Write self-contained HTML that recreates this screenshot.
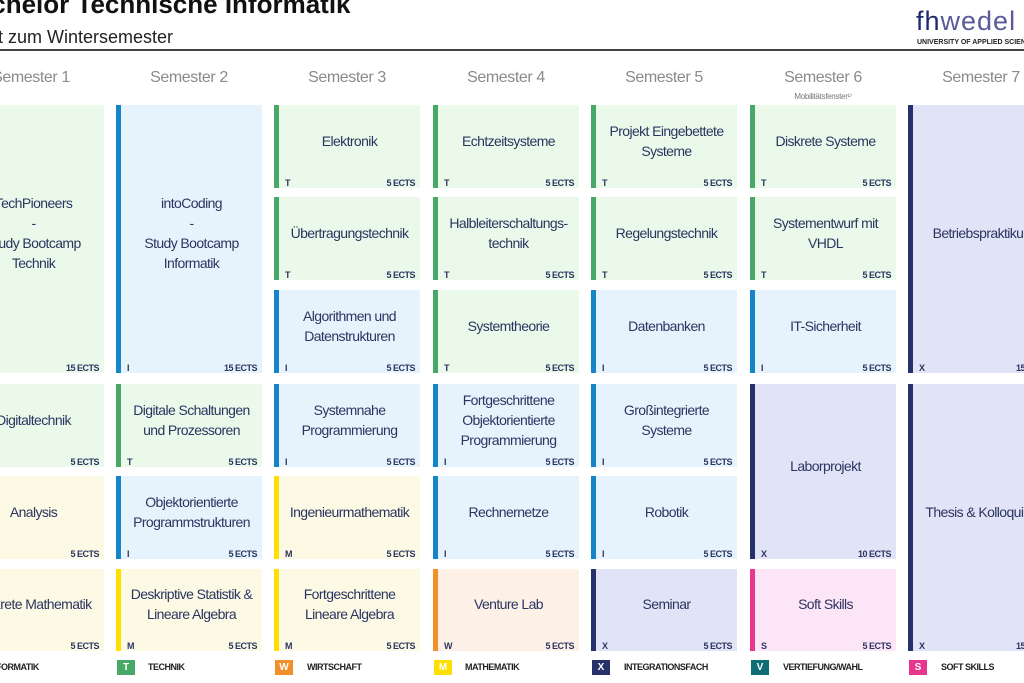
<!DOCTYPE html>
<html><head><meta charset="utf-8">
<style>
*{margin:0;padding:0;box-sizing:border-box}
body{width:1024px;height:683px;overflow:hidden;background:#fff;position:relative;font-family:"Liberation Sans",sans-serif;color:#2b3560}
.t1{position:absolute;left:-42px;top:-11px;font-size:26px;font-weight:bold;color:#111;white-space:nowrap}
.t2{position:absolute;left:-35px;top:27px;font-size:18px;color:#222;white-space:nowrap}
.hr{position:absolute;left:0;top:49px;width:1024px;height:2px;background:#444}
.logo{position:absolute;left:916px;top:6px;font-size:27px;color:#5a5a9a;letter-spacing:1px}
.logo b{font-weight:normal;color:#1f2a6a}
.uni{position:absolute;left:917px;top:39px;font-size:7px;color:#222;white-space:nowrap;font-weight:bold}
.sh{position:absolute;top:69px;width:146px;text-align:center;font-size:16px;color:#8a8a8a;letter-spacing:-0.4px}
.mob{position:absolute;left:750px;top:92px;width:146px;text-align:center;font-size:8px;color:#777;letter-spacing:-0.3px}
.c{position:absolute;width:146px;height:83px;border-left:5px solid}
.c .n{position:absolute;left:0;right:0;top:0;bottom:12px;display:flex;align-items:center;justify-content:center;text-align:center;font-size:14px;line-height:20px;padding:0 3px;letter-spacing:-0.6px}
.c .k{position:absolute;left:6px;bottom:0px;font-size:9px;font-weight:bold}
.c .e{position:absolute;right:5px;bottom:0px;font-size:9px;font-weight:bold;letter-spacing:-0.5px}
.g{background:#eaf9ea;border-color:#47a867}
.b{background:#e6f3fd;border-color:#1584c8}
.y{background:#fcf9e5;border-color:#ffdf00}
.o{background:#fdf0e6;border-color:#f0902a}
.x{background:#e1e4f6;border-color:#26306a}
.p{background:#fde5f8;border-color:#e8368f}
.lg{position:absolute;top:660px;width:18px;height:15px;color:#fff;font-size:10px;text-align:center;line-height:15px;font-weight:bold}
.lt{position:absolute;top:662px;font-size:9px;font-weight:bold;color:#222;white-space:nowrap;letter-spacing:-0.5px}
</style></head><body>
<div class="t1">Bachelor Technische Informatik</div>
<div class="t2">Start zum Wintersemester</div>
<div class="hr"></div>
<div class="logo"><b>fh</b>wedel</div>
<div class="uni">UNIVERSITY OF APPLIED SCIENCES</div>

<div class="sh" style="left:-42px">Semester 1</div>
<div class="sh" style="left:116px">Semester 2</div>
<div class="sh" style="left:274px">Semester 3</div>
<div class="sh" style="left:433px">Semester 4</div>
<div class="sh" style="left:591px">Semester 5</div>
<div class="sh" style="left:750px">Semester 6</div>
<div class="sh" style="left:908px">Semester 7</div>
<div class="mob">Mobilitätsfenster¹⁾</div>

<div class="c g" style="left:-42px;top:105px;height:268px"><div class="n">TechPioneers<br>-<br>Study Bootcamp<br>Technik</div><span class="k">T</span><span class="e">15 ECTS</span></div>
<div class="c g" style="left:-42px;top:384px"><div class="n">Digitaltechnik</div><span class="k">T</span><span class="e">5 ECTS</span></div>
<div class="c y" style="left:-42px;top:476px"><div class="n">Analysis</div><span class="k">M</span><span class="e">5 ECTS</span></div>
<div class="c y" style="left:-42px;top:569px;height:82px"><div class="n">Diskrete Mathematik</div><span class="k">M</span><span class="e">5 ECTS</span></div>

<div class="c b" style="left:116px;top:105px;height:268px"><div class="n">intoCoding<br>-<br>Study Bootcamp<br>Informatik</div><span class="k">I</span><span class="e">15 ECTS</span></div>
<div class="c g" style="left:116px;top:384px"><div class="n">Digitale Schaltungen und Prozessoren</div><span class="k">T</span><span class="e">5 ECTS</span></div>
<div class="c b" style="left:116px;top:476px"><div class="n">Objektorientierte Programmstrukturen</div><span class="k">I</span><span class="e">5 ECTS</span></div>
<div class="c y" style="left:116px;top:569px;height:82px"><div class="n">Deskriptive Statistik &amp; Lineare Algebra</div><span class="k">M</span><span class="e">5 ECTS</span></div>

<div class="c g" style="left:274px;top:105px"><div class="n">Elektronik</div><span class="k">T</span><span class="e">5 ECTS</span></div>
<div class="c g" style="left:274px;top:197px"><div class="n">Übertragungstechnik</div><span class="k">T</span><span class="e">5 ECTS</span></div>
<div class="c b" style="left:274px;top:290px"><div class="n">Algorithmen und Datenstrukturen</div><span class="k">I</span><span class="e">5 ECTS</span></div>
<div class="c b" style="left:274px;top:384px"><div class="n">Systemnahe Programmierung</div><span class="k">I</span><span class="e">5 ECTS</span></div>
<div class="c y" style="left:274px;top:476px"><div class="n">Ingenieurmathematik</div><span class="k">M</span><span class="e">5 ECTS</span></div>
<div class="c y" style="left:274px;top:569px;height:82px"><div class="n">Fortgeschrittene Lineare Algebra</div><span class="k">M</span><span class="e">5 ECTS</span></div>

<div class="c g" style="left:433px;top:105px"><div class="n">Echtzeitsysteme</div><span class="k">T</span><span class="e">5 ECTS</span></div>
<div class="c g" style="left:433px;top:197px"><div class="n">Halbleiterschaltungs-<br>technik</div><span class="k">T</span><span class="e">5 ECTS</span></div>
<div class="c g" style="left:433px;top:290px"><div class="n">Systemtheorie</div><span class="k">T</span><span class="e">5 ECTS</span></div>
<div class="c b" style="left:433px;top:384px"><div class="n">Fortgeschrittene Objektorientierte Programmierung</div><span class="k">I</span><span class="e">5 ECTS</span></div>
<div class="c b" style="left:433px;top:476px"><div class="n">Rechnernetze</div><span class="k">I</span><span class="e">5 ECTS</span></div>
<div class="c o" style="left:433px;top:569px;height:82px"><div class="n">Venture Lab</div><span class="k">W</span><span class="e">5 ECTS</span></div>

<div class="c g" style="left:591px;top:105px"><div class="n">Projekt Eingebettete Systeme</div><span class="k">T</span><span class="e">5 ECTS</span></div>
<div class="c g" style="left:591px;top:197px"><div class="n">Regelungstechnik</div><span class="k">T</span><span class="e">5 ECTS</span></div>
<div class="c b" style="left:591px;top:290px"><div class="n">Datenbanken</div><span class="k">I</span><span class="e">5 ECTS</span></div>
<div class="c b" style="left:591px;top:384px"><div class="n">Großintegrierte Systeme</div><span class="k">I</span><span class="e">5 ECTS</span></div>
<div class="c b" style="left:591px;top:476px"><div class="n">Robotik</div><span class="k">I</span><span class="e">5 ECTS</span></div>
<div class="c x" style="left:591px;top:569px;height:82px"><div class="n">Seminar</div><span class="k">X</span><span class="e">5 ECTS</span></div>

<div class="c g" style="left:750px;top:105px"><div class="n">Diskrete Systeme</div><span class="k">T</span><span class="e">5 ECTS</span></div>
<div class="c g" style="left:750px;top:197px"><div class="n">Systementwurf mit VHDL</div><span class="k">T</span><span class="e">5 ECTS</span></div>
<div class="c b" style="left:750px;top:290px"><div class="n">IT-Sicherheit</div><span class="k">I</span><span class="e">5 ECTS</span></div>
<div class="c x" style="left:750px;top:384px;height:175px"><div class="n">Laborprojekt</div><span class="k">X</span><span class="e">10 ECTS</span></div>
<div class="c p" style="left:750px;top:569px;height:82px"><div class="n">Soft Skills</div><span class="k">S</span><span class="e">5 ECTS</span></div>

<div class="c x" style="left:908px;top:105px;height:268px"><div class="n">Betriebspraktikum</div><span class="k">X</span><span class="e">15 ECTS</span></div>
<div class="c x" style="left:908px;top:384px;height:267px"><div class="n">Thesis &amp; Kolloquium</div><span class="k">X</span><span class="e">15 ECTS</span></div>

<div class="lg" style="left:-41px;background:#1584c8">I</div><div class="lt" style="left:-12px">INFORMATIK</div>
<div class="lg" style="left:117px;background:#47a867">T</div><div class="lt" style="left:148px">TECHNIK</div>
<div class="lg" style="left:275px;background:#f0902a">W</div><div class="lt" style="left:307px">WIRTSCHAFT</div>
<div class="lg" style="left:434px;background:#ffdf00">M</div><div class="lt" style="left:465px">MATHEMATIK</div>
<div class="lg" style="left:592px;background:#26306a">X</div><div class="lt" style="left:624px">INTEGRATIONSFACH</div>
<div class="lg" style="left:751px;background:#0f6e73">V</div><div class="lt" style="left:783px">VERTIEFUNG/WAHL</div>
<div class="lg" style="left:909px;background:#e8368f">S</div><div class="lt" style="left:941px">SOFT SKILLS</div>
</body></html>
